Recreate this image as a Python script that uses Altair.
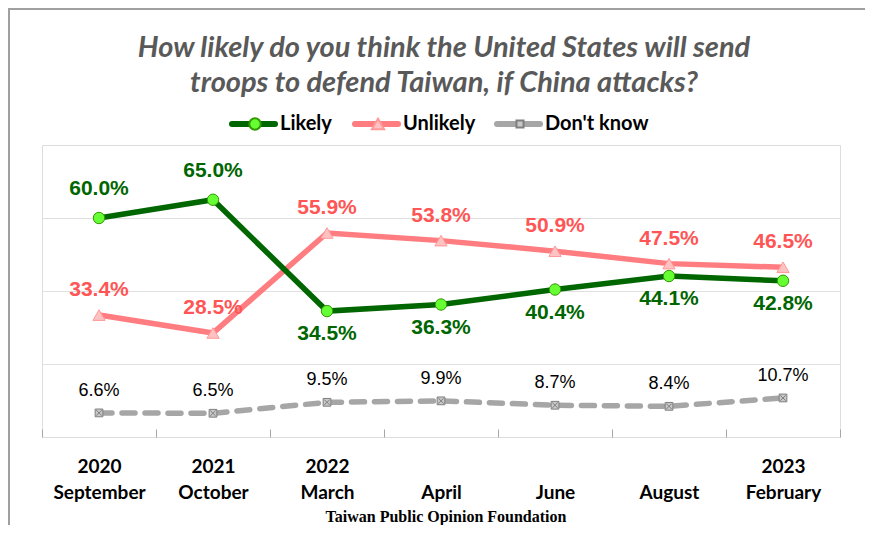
import altair as alt
import pandas as pd

periods = ["2020|September", "2021|October", "2022|March", "|April", "|June", "|August", "2023|February"]
likely = [60.0, 65.0, 34.5, 36.3, 40.4, 44.1, 42.8]
unlikely = [33.4, 28.5, 55.9, 53.8, 50.9, 47.5, 46.5]
dont_know = [6.6, 6.5, 9.5, 9.9, 8.7, 8.4, 10.7]
title_lines = ["How likely do you think the United States will send",
               "troops to defend Taiwan, if China attacks?"]
source = "Taiwan Public Opinion Foundation"

rows = []
for i, p in enumerate(periods):
    rows.append({"period": p, "idx": i, "series": "Likely", "value": likely[i]})
    rows.append({"period": p, "idx": i, "series": "Unlikely", "value": unlikely[i]})
    rows.append({"period": p, "idx": i, "series": "Don't know", "value": dont_know[i]})
df = pd.DataFrame(rows)
df["label"] = df["value"].map(lambda v: f"{v:.1f}%")

W, H = 798, 292
GREEN = "#006600"
PINK = "#ff7c80"
GRAY = "#a6a6a6"

xenc = alt.X("period:N", sort=periods, bandPosition=0.5,
             scale=alt.Scale(type="band", paddingInner=0, paddingOuter=0),
             axis=alt.Axis(title=None, labelExpr="split(datum.label, '|')", labelAngle=0,
                           labelFont="Lato", labelFontSize=19, labelFontWeight="bold",
                           labelColor="#000000", labelLineHeight=26, labelBaseline="top",
                           labelPadding=20, tickBand="extent", tickSize=8, offset=-8,
                           tickColor="#a6a6a6", domain=False, grid=False))
yenc = alt.Y("value:Q", scale=alt.Scale(domain=[0, 80], nice=False),
             axis=alt.Axis(title=None, labels=False, ticks=False, domain=False,
                           values=[20, 40, 60], grid=True, gridColor="#e0e0e0", gridWidth=1))

base = alt.Chart(df)

def sel(name):
    return base.transform_filter(alt.datum.series == name)

line_l = sel("Likely").mark_line(color=GREEN, strokeWidth=5.5).encode(x=xenc, y=yenc)
line_u = sel("Unlikely").mark_line(color=PINK, strokeWidth=5.5).encode(x=xenc, y=yenc)
line_d = sel("Don't know").mark_line(color=GRAY, strokeWidth=5.5, strokeDash=[13, 10],
                                     strokeCap="round").encode(x=xenc, y=yenc)

pt_l = sel("Likely").mark_point(shape="circle", filled=True, fill="#66ff33", stroke="#339900",
                                strokeWidth=1, size=130, opacity=1).encode(x=xenc, y=yenc)
pt_u = sel("Unlikely").mark_point(shape="triangle-up", filled=True, fill="#ffc2c2", stroke="#ff9999",
                                  strokeWidth=1, size=150, opacity=1).encode(x=xenc, y=yenc)
pt_d = sel("Don't know").mark_point(shape="square", filled=True, fill="#c8c8c8", stroke="#7f7f7f",
                                    strokeWidth=1, size=60, opacity=1).encode(x=xenc, y=yenc)
pt_dx = sel("Don't know").mark_point(shape="M-1,-1L1,1M1,-1L-1,1", filled=False, stroke="#7f7f7f",
                                     strokeWidth=1, size=30, opacity=1).encode(x=xenc, y=yenc)

lbl_font = dict(font="Liberation Sans", fontSize=21, fontWeight="bold")
txt_l_up = sel("Likely").transform_filter(alt.datum.idx < 2).mark_text(
    color=GREEN, dy=-29, **lbl_font).encode(x=xenc, y=yenc, text="label:N")
txt_l_dn = sel("Likely").transform_filter(alt.datum.idx >= 2).mark_text(
    color=GREEN, dy=23, **lbl_font).encode(x=xenc, y=yenc, text="label:N")
txt_u = sel("Unlikely").mark_text(color="#ff5555", dy=-25, **lbl_font).encode(
    x=xenc, y=yenc, text="label:N")
txt_d = sel("Don't know").mark_text(color="#000000", dy=-22, font="Liberation Sans",
                                   fontSize=18).encode(x=xenc, y=yenc, text="label:N")

# title as text marks
title_layers = []
for k, t in enumerate(title_lines):
    title_layers.append(alt.Chart(pd.DataFrame({"t": [t]})).mark_text(
        font="Lato", fontSize=29, fontStyle="italic", fontWeight="bold", color="#595959",
        baseline="alphabetic", align="center").encode(
        x=alt.value(402), y=alt.value(-88 + 35 * k), text="t:N"))

# legend (manual, above plot)
LY = -21
legend_layers = []
specs = [
    ("Likely", 190, GREEN, "circle", "#66ff33", "#339900", 130),
    ("Unlikely", 313, PINK, "triangle-up", "#ffc2c2", "#ff9999", 150),
    ("Don't know", 455, GRAY, "square", "#c8c8c8", "#7f7f7f", 50),
]
for name, x0, col, shp, fill, stroke, size in specs:
    d = alt.Chart(pd.DataFrame({"name": [name]}))
    legend_layers.append(d.mark_rule(color=col, strokeWidth=6, strokeCap="round").encode(
        x=alt.value(x0), x2=alt.value(x0 + 43), y=alt.value(LY)))
    legend_layers.append(d.mark_point(shape=shp, filled=True, fill=fill, stroke=stroke, size=size,
                                      opacity=1).encode(x=alt.value(x0 + 23), y=alt.value(LY)))
    legend_layers.append(d.mark_text(align="left", baseline="middle", font="Lato", fontSize=20,
                                     fontWeight="bold", color="#000000").encode(
        x=alt.value(x0 + 48), y=alt.value(LY), text="name:N"))

footer = alt.Chart(pd.DataFrame({"t": [source]})).mark_text(
    font="Liberation Serif", fontSize=16, fontWeight="bold", color="#000000").encode(
    x=alt.value(404), y=alt.value(372), text="t:N")

frame_top = alt.Chart(pd.DataFrame({"a": [0]})).mark_rule(color="#a0a0a0", strokeWidth=2).encode(
    x=alt.value(-34), x2=alt.value(850), y=alt.value(-136))
frame_left = alt.Chart(pd.DataFrame({"a": [0]})).mark_rule(color="#a0a0a0", strokeWidth=2).encode(
    x=alt.value(-33), y=alt.value(-136), y2=alt.value(400))

chart = alt.layer(
    frame_top, frame_left,
    line_u, line_l, line_d, pt_u, pt_l, pt_d, pt_dx,
    txt_l_up, txt_l_dn, txt_u, txt_d,
    *title_layers, *legend_layers, footer,
).properties(
    width=W, height=H,
    autosize=alt.AutoSizeParams(type="none"),
    padding={"left": 34, "top": 137, "right": 25, "bottom": 88},
).configure_view(stroke="#9a9a9a", strokeWidth=2).configure(background="white")

chart.save("out.html", embed_options={"renderer": "svg", "actions": False})
